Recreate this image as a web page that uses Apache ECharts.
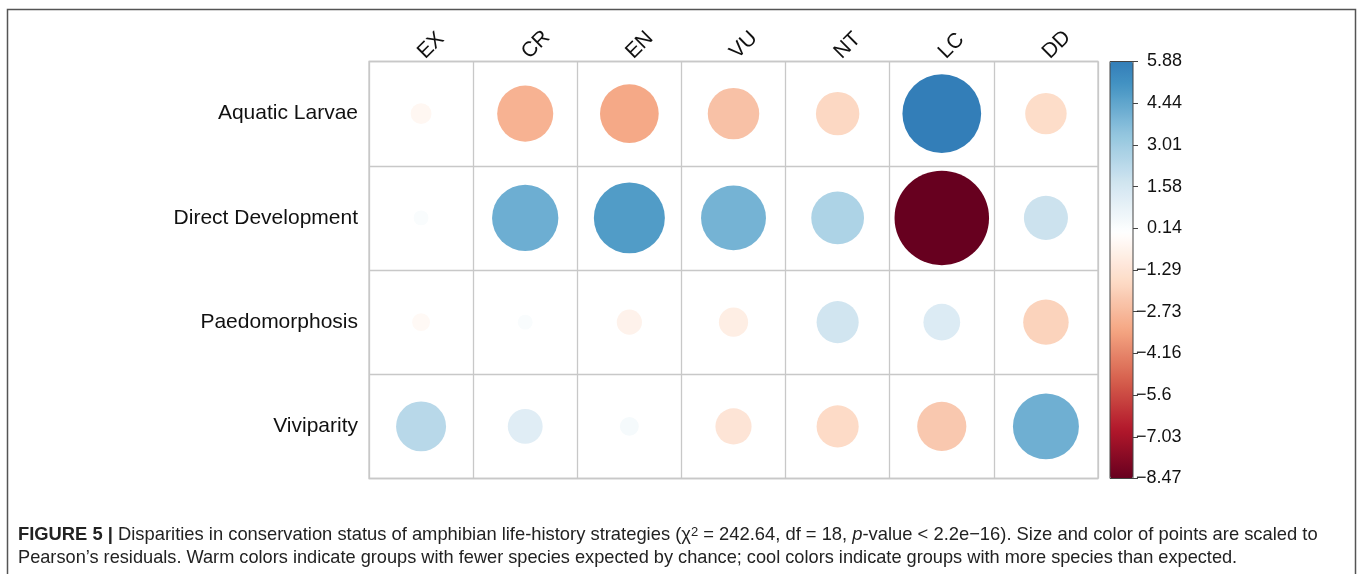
<!DOCTYPE html>
<html>
<head>
<meta charset="utf-8">
<script src="https://cdn.jsdelivr.net/npm/echarts@6/dist/echarts.min.js"></script>
<style>
html,body{margin:0;padding:0;background:#fff;}
#chart{width:1360px;height:574px;}
</style>
</head>
<body>
<div id="chart"></div>
<script>
// ---- data ----
var statuses = ['EX', 'CR', 'EN', 'VU', 'NT', 'LC', 'DD'];
var strategies = ['Aquatic Larvae', 'Direct Development', 'Paedomorphosis', 'Viviparity'];
var aquaticLarvae      = [-0.41, -2.98, -3.27, -2.51, -1.79,  5.88, -1.63];
var directDevelopment  = [ 0.21,  4.17,  4.78,  4.00,  2.64, -8.47,  1.84];
var paedomorphosis     = [-0.30,  0.21, -0.60, -0.81,  1.68,  1.28, -1.96];
var viviparity         = [ 2.37,  1.15,  0.34, -1.24, -1.68, -2.29,  4.13];
var colorbarTicks = ['\u22128.47', '\u22127.03', '\u22125.6', '\u22124.16', '\u22122.73', '\u22121.29', '0.14', '1.58', '3.01', '4.44', '5.88'];
var colorMin = -8.47, colorMax = 5.88;

// ---- build ----
var rows = [aquaticLarvae, directDevelopment, paedomorphosis, viviparity];
var cells = [];
var maxAbs = 0;
rows.forEach(function (vals, r) {
  vals.forEach(function (v, c) {
    cells.push([c, r, v]);
    if (Math.abs(v) > maxAbs) maxAbs = Math.abs(v);
  });
});

var RDBU = ['#67001F','#B2182B','#D6604D','#F4A582','#FDDBC7','#FFFFFF','#D1E5F0','#92C5DE','#4393C3','#2166AC','#053061'];
function hex2rgb(h){return [parseInt(h.substr(1,2),16),parseInt(h.substr(3,2),16),parseInt(h.substr(5,2),16)];}
function palette(t){ // t in [-1,1]
  var p = (t + 1) / 2 * (RDBU.length - 1);
  var i = Math.max(0, Math.min(RDBU.length - 2, Math.floor(p)));
  var f = p - i;
  var a = hex2rgb(RDBU[i]), b = hex2rgb(RDBU[i+1]);
  var c = a.map(function(x,k){return Math.round(x + (b[k]-x)*f);});
  return 'rgb(' + c.join(',') + ')';
}
var colorList = [];
var N = 80;
for (var k = 0; k <= N; k++) {
  var v = colorMin + (colorMax - colorMin) * k / N;
  colorList.push(palette(v / maxAbs));
}

var FONT = "'Liberation Sans', Arial, Helvetica, sans-serif";
var MAXD = 94.5;

var chart = echarts.init(document.getElementById('chart'), null, {renderer: 'canvas'});
chart.setOption({
  backgroundColor: '#ffffff',
  animation: false,
  textStyle: {fontFamily: FONT},
  grid: [
    {left: 369, top: 61.5, width: 729, height: 417, show: true, borderColor: '#c8c8c8', borderWidth: 1.3, backgroundColor: 'transparent', containLabel: false},
    {left: 1110, top: 61.5, width: 23, height: 417, show: true, borderColor: '#444', borderWidth: 1, backgroundColor: 'transparent', z: 10},
    {left: 1133, top: 61.5, width: 1, height: 417, show: false}
  ],
  xAxis: [
    {type: 'category', gridIndex: 0, position: 'top', data: statuses,
     axisLine: {show: false}, axisTick: {show: false},
     splitLine: {show: true, lineStyle: {color: '#c8c8c8', width: 1.3}},
     axisLabel: {rotate: -45, fontSize: 21, color: '#111', margin: 6, fontFamily: FONT}},
    {type: 'value', gridIndex: 1, show: false, min: 0, max: 1},
    {type: 'value', gridIndex: 2, show: false, min: 0, max: 1}
  ],
  yAxis: [
    {type: 'category', gridIndex: 0, inverse: true, data: strategies,
     axisLine: {show: false}, axisTick: {show: false},
     splitLine: {show: true, lineStyle: {color: '#c8c8c8', width: 1.3}},
     axisLabel: {fontSize: 21, color: '#111', margin: 11, fontFamily: FONT}},
    {type: 'value', gridIndex: 1, show: false, min: 0, max: 1},
    {type: 'category', gridIndex: 2, position: 'right', data: colorbarTicks, boundaryGap: false, z: 10,
     axisLine: {show: false},
     axisTick: {show: true, inside: false, length: 5, interval: 0, lineStyle: {color: '#444', width: 1}},
     splitLine: {show: false},
     axisLabel: {fontSize: 18, color: '#111', margin: 2, fontFamily: FONT, interval: 0,
       formatter: function (s) { return s.charAt(0) === '\u2212' ? s : '{p|' + s + '}'; },
       rich: {p: {fontSize: 18, fontFamily: FONT, color: '#111', padding: [0, 0, 0, 11]}}}}
  ],
  visualMap: {
    type: 'continuous', min: colorMin, max: colorMax, dimension: 2, seriesIndex: 0,
    left: 1110, top: 61.5, itemWidth: 23, itemHeight: 417, padding: 0,
    calculable: false, hoverLink: false, text: null, showLabel: false,
    inRange: {color: colorList}
  },
  series: [{
    type: 'scatter', xAxisIndex: 0, yAxisIndex: 0,
    data: cells,
    symbol: 'circle',
    symbolSize: function (d) { return MAXD * Math.sqrt(Math.abs(d[2]) / maxAbs); },
    itemStyle: {opacity: 1},
    emphasis: {disabled: true}
  }],
  graphic: [
    {type: 'rect', shape: {x: 7.5, y: 9.5, width: 1348, height: 700}, style: {fill: 'none', stroke: '#555', lineWidth: 1.5}, silent: true},
    {type: 'text', left: 18, top: 526, silent: true,
     style: {
       text: '{b|FIGURE 5 |} Disparities in conservation status of amphibian life-history strategies (\u03c7{s|2} = 242.64, df = 18, {i|p}-value < 2.2e\u221216). Size and color of points are scaled to',
       font: "18.37px " + FONT, fill: '#222',
       rich: {
         b: {fontWeight: 'bold', fontSize: 18.37, fontFamily: FONT, fill: '#222'},
         s: {fontSize: 13, fontFamily: FONT, verticalAlign: 'top', fill: '#222'},
         i: {fontStyle: 'italic', fontSize: 18.37, fontFamily: FONT, fill: '#222'}
       }
     }},
    {type: 'text', left: 18, top: 549, silent: true,
     style: {
       text: 'Pearson\u2019s residuals. Warm colors indicate groups with fewer species expected by chance; cool colors indicate groups with more species than expected.',
       font: "18.2px " + FONT, fill: '#222'
     }}
  ]
});
</script>
</body>
</html>
